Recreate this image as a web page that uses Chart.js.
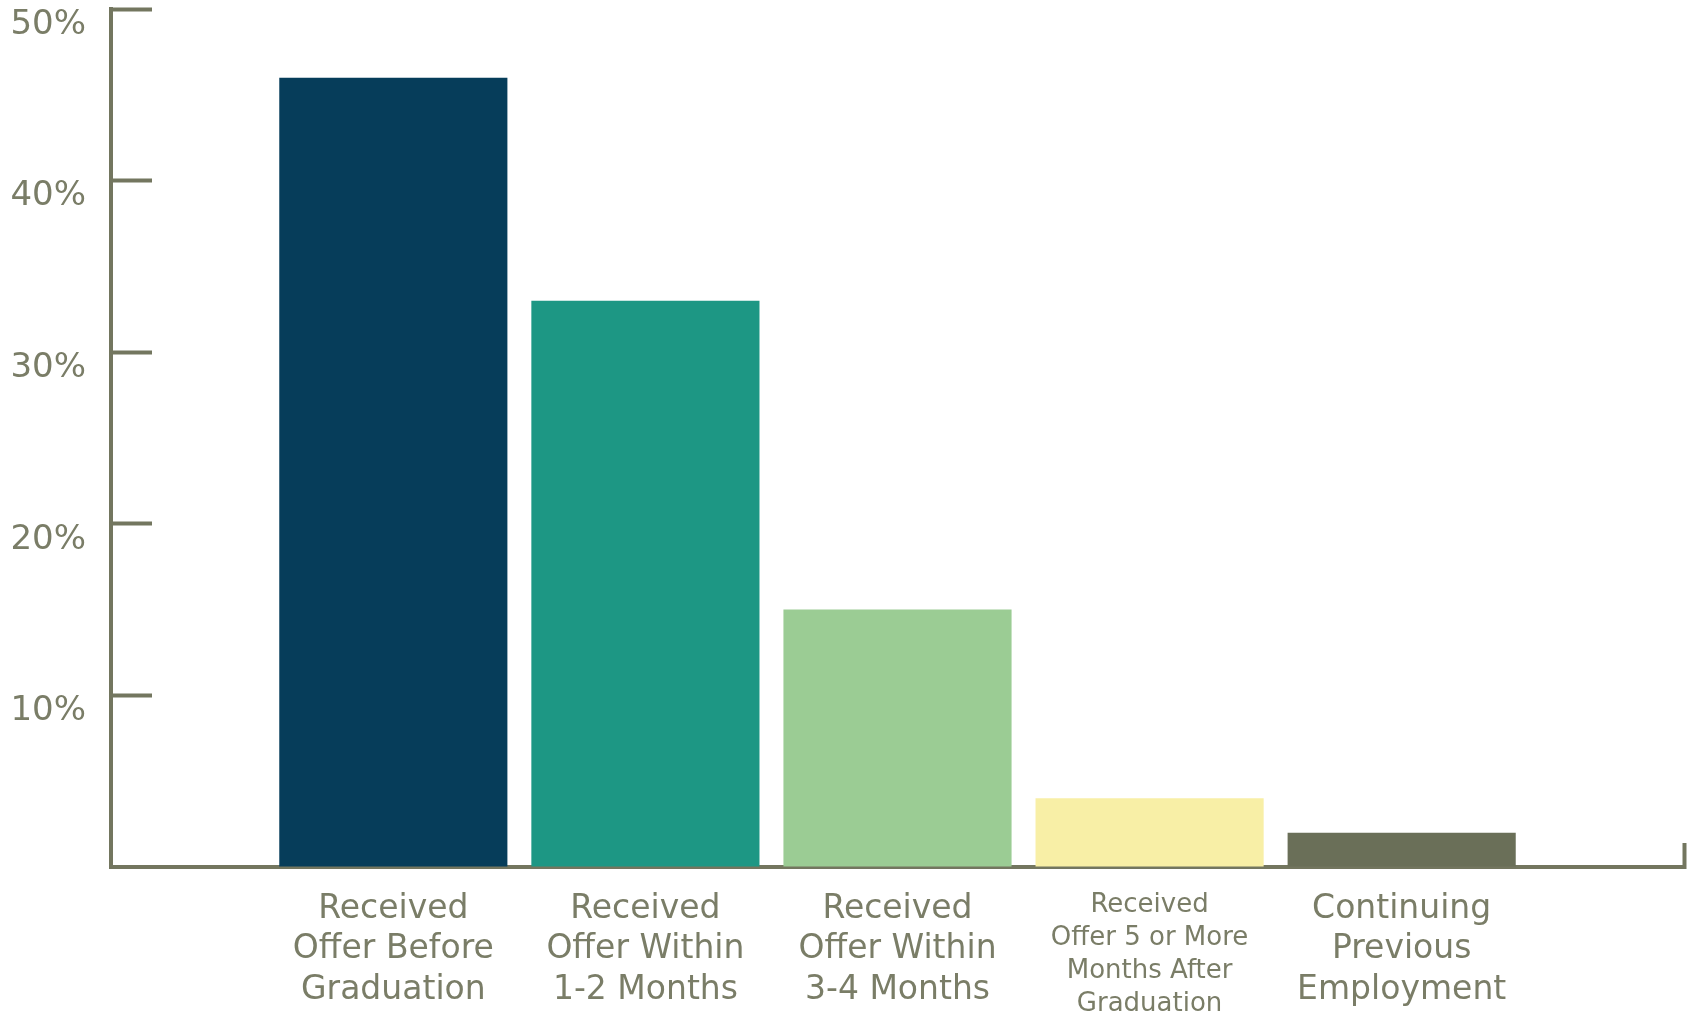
<!DOCTYPE html>
<html>
<head>
<meta charset="utf-8">
<script src="https://cdn.jsdelivr.net/npm/chart.js@4"></script>
<style>
  html, body { margin: 0; padding: 0; background: #ffffff; }
  #wrap { width: 1690px; height: 1011px; position: relative; }
</style>
</head>
<body>
<div id="wrap"><canvas id="c"></canvas></div>
<script>
// ---- Data ----
const categories = [
  ["Received", "Offer Before", "Graduation"],
  ["Received", "Offer Within", "1-2 Months"],
  ["Received", "Offer Within", "3-4 Months"],
  ["Received", "Offer 5 or More", "Months After", "Graduation"],
  ["Continuing", "Previous", "Employment"]
];
const values = [46, 33, 15, 4, 2];
const barColors = ["#063D5A", "#1D9784", "#9BCC94", "#F8EFA6", "#6A6F58"];
const yTicks = [0, 10, 20, 30, 40, 50];
const yTickLabels = ["", "10%", "20%", "30%", "40%", "50%"];

// ---- Styling ----
const axisColor = "#73765F";
const textColor = "#7A7D67";
const fontFamily = "'DejaVu Sans', sans-serif";
const X_MIN = -0.12, X_MAX = 6.12;

const points = values.map((v, i) => ({ x: i + 1, y: v }));

new Chart(document.getElementById('c'), {
  type: 'bar',
  data: {
    datasets: [{
      data: points,
      backgroundColor: barColors,
      borderWidth: 0,
      categoryPercentage: 0.905,
      barPercentage: 1.0
    }]
  },
  options: {
    responsive: true,
    maintainAspectRatio: false,
    animation: false,
    layout: { padding: { top: 9, right: 6, left: 0, bottom: 0 } },
    plugins: { legend: { display: false }, tooltip: { enabled: false } },
    scales: {
      x: {
        type: 'linear',
        offset: false,
        min: X_MIN,
        max: X_MAX,
        afterBuildTicks: (scale) => {
          scale.ticks = categories.map((c, i) => ({ value: i + 1 })).concat([{ value: X_MAX }]);
        },
        afterFit: (scale) => {
          scale.height = 144;
          scale.paddingLeft = 0; scale.paddingRight = 0;
        },
        border: { display: true, color: axisColor, width: 4 },
        grid: {
          offset: false,
          drawOnChartArea: false,
          drawTicks: true,
          tickLength: -24,
          tickWidth: 4,
          color: (ctx) => (ctx.tick && ctx.tick.value === X_MAX) ? axisColor : 'rgba(0,0,0,0)'
        },
        ticks: {
          autoSkip: false,
          maxRotation: 0,
          minRotation: 0,
          padding: 46,
          color: textColor,
          font: (ctx) => (ctx.index === 3)
            ? { family: fontFamily, size: 26, lineHeight: 1.27 }
            : { family: fontFamily, size: 33, lineHeight: 1.23 },
          callback: (value) => {
            const i = Math.round(value) - 1;
            if (Math.abs(value - Math.round(value)) > 1e-6 || i < 0 || i >= categories.length) return '';
            return categories[i];
          }
        }
      },
      y: {
        min: 0,
        max: 50,
        afterBuildTicks: (scale) => {
          scale.ticks = yTicks.map(v => ({ value: v }));
        },
        afterFit: (scale) => {
          scale.width = 111;
          scale.paddingTop = 0; scale.paddingBottom = 0;
        },
        border: { display: true, color: axisColor, width: 4 },
        grid: {
          drawOnChartArea: false,
          drawTicks: true,
          tickLength: -41,
          tickWidth: 4,
          color: (ctx) => (ctx.tick && ctx.tick.value === 0) ? 'rgba(0,0,0,0)' : axisColor
        },
        ticks: {
          padding: 66,
          labelOffset: 16,
          color: textColor,
          font: { family: fontFamily, size: 34 },
          callback: (value) => {
            const i = yTicks.indexOf(value);
            return i >= 0 ? yTickLabels[i] : '';
          }
        }
      }
    }
  }
});
</script>
</body>
</html>
